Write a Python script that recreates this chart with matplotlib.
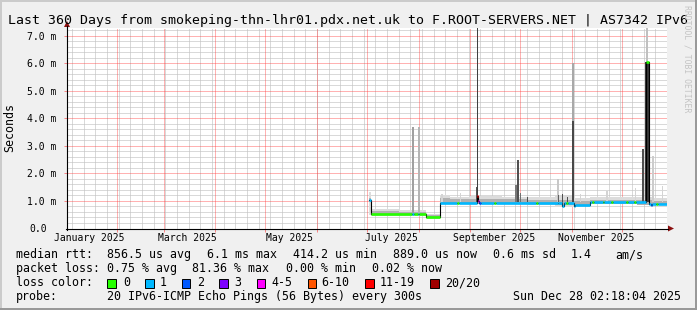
import numpy as np
import pandas as pd
import matplotlib
matplotlib.use('Agg')
import matplotlib.pyplot as plt
import matplotlib.dates as mdates
from matplotlib.patches import Rectangle, Polygon
from matplotlib.lines import Line2D

plt.rcParams['font.family'] = ['DejaVu Sans Mono', 'DejaVu Sans']

# ---------------- data ----------------
END = pd.Timestamp('2025-12-28 02:18:04')
START = END - pd.Timedelta(days=360)

# median rtt (ms) as steps: breakpoints, value per step, loss bucket per step
med_t = ['2025-07-02 12:00', '2025-07-03 06:00', '2025-07-28 00:00', '2025-07-29 00:00',
         '2025-07-31 12:00', '2025-08-01 12:00', '2025-08-05 18:00', '2025-08-13 18:00',
         '2025-08-24 00:00', '2025-08-25 00:00', '2025-09-05 06:00', '2025-09-05 18:00',
         '2025-09-06 12:00', '2025-09-07 12:00', '2025-09-15 00:00', '2025-09-16 12:00',
         '2025-10-10 12:00', '2025-10-11 12:00', '2025-10-23 12:00', '2025-10-26 00:00',
         '2025-10-27 00:00', '2025-10-28 12:00', '2025-10-29 12:00', '2025-11-02 00:00',
         '2025-11-03 00:00', '2025-11-12 00:00', '2025-11-13 00:00', '2025-11-14 00:00',
         '2025-11-19 12:00', '2025-11-20 12:00', '2025-11-24 12:00', '2025-11-25 12:00',
         '2025-12-03 12:00', '2025-12-04 12:00', '2025-12-08 12:00', '2025-12-09 12:00',
         '2025-12-15 12:00', '2025-12-17 00:00', '2025-12-18 12:00', '2025-12-19 06:00',
         '2025-12-21 12:00', '2025-12-22 12:00', '2025-12-28 02:18']
med_v = [1.03, 0.53, 0.53, 0.53, 0.53, 0.52, 0.43, 0.94, 0.94, 0.94, 1.18, 1.00,
         0.94, 0.94, 0.94, 0.94, 0.94, 0.94, 0.91, 0.80, 0.93, 0.94, 0.92, 0.80,
         0.86, 0.95, 0.95, 0.95, 0.95, 0.95, 0.95, 0.95, 0.95, 0.95, 0.95, 0.95,
         6.06, 0.90, 0.84, 0.88, 0.88, 0.90]
med_loss = [1, 0, 1, 0, 1, 0, 0, 1, 0, 1, 6, 4,
            2, 1, 0, 1, 0, 1, 1, 1, 1, 0, 1, 1,
            1, 1, 0, 1, 0, 1, 0, 1, 0, 1, 0, 1,
            0, 1, 2, 1, 0, 1]

# smoke bands (ms)
smoke_t = ['2025-07-02 12:00', '2025-07-03 06:00', '2025-07-20 00:00', '2025-08-01 12:00',
           '2025-08-05 18:00', '2025-08-13 18:00', '2025-08-20 00:00', '2025-09-01 00:00',
           '2025-09-20 00:00', '2025-10-05 00:00', '2025-10-22 00:00', '2025-11-02 00:00',
           '2025-11-12 00:00', '2025-11-25 00:00', '2025-12-10 00:00', '2025-12-20 00:00',
           '2025-12-28 02:18']
light_hi = [1.34, 0.70, 0.68, 0.66, 0.52, 1.22, 1.16, 1.18, 1.16, 1.16, 1.18, 1.10, 1.14, 1.16, 1.14, 1.10]
light_lo = [0.50, 0.47, 0.47, 0.45, 0.35, 0.88, 0.88, 0.88, 0.88, 0.86, 0.78, 0.80, 0.88, 0.88, 0.84, 0.84]
dark_hi = [1.10, 0.62, 0.61, 0.60, 0.48, 1.10, 1.06, 1.06, 1.06, 1.05, 1.05, 1.00, 1.05, 1.05, 1.04, 1.00]
dark_lo = [0.95, 0.50, 0.50, 0.48, 0.37, 0.90, 0.90, 0.90, 0.90, 0.88, 0.84, 0.82, 0.90, 0.90, 0.86, 0.86]

# smoke spikes: centre date, width (days), bottom, top (ms), grey shade
spike_t = ['2025-08-15 00:00', '2025-08-26 00:00', '2025-11-06 00:00', '2025-11-22 00:00',
           '2025-12-09 00:00', '2025-12-25 12:00', '2025-10-23 12:00', '2025-12-19 16:00',
           '2025-07-28 14:00', '2025-08-01 06:00', '2025-09-05 00:00', '2025-09-05 14:00',
           '2025-09-28 12:00', '2025-09-29 18:00', '2025-10-01 00:00', '2025-10-05 14:00',
           '2025-10-24 00:00', '2025-10-26 12:00', '2025-10-29 12:00', '2025-11-01 14:00',
           '2025-11-01 14:00', '2025-12-13 14:00', '2025-12-16 06:00', '2025-12-16 06:00']
spike_w = [0.8, 0.8, 0.8, 0.8, 0.8, 0.8, 1.2, 1.0,
           1.2, 1.0, 1.2, 0.6, 1.2, 1.2, 0.8, 0.8,
           0.8, 0.8, 0.8, 1.2, 1.2, 1.2, 3.0, 1.3]
spike_bot = [0.95, 0.95, 0.95, 0.95, 0.95, 0.95, 0.95, 0.95,
             0.55, 0.55, 0.95, 0.95, 0.95, 0.95, 0.95, 0.95,
             0.95, 0.90, 0.95, 0.95, 0.95, 0.95, 0.95, 6.06]
spike_top = [1.25, 1.30, 1.25, 1.37, 1.46, 1.54, 1.80, 2.63,
             3.70, 3.70, 1.52, 7.40, 1.58, 2.49, 1.30, 1.15,
             1.20, 1.25, 1.15, 6.00, 3.90, 2.90, 6.06, 7.40]
spike_c = ['#d4d4d4', '#d4d4d4', '#d4d4d4', '#d4d4d4', '#d4d4d4', '#d4d4d4', '#c8c8c8', '#cccccc',
           '#a0a0a0', '#b4b4b4', '#555555', '#404040', '#787878', '#505050', '#707070', '#505050',
           '#606060', '#505050', '#505050', '#a8a8a8', '#484848', '#505050', '#383838', '#c0c0c0']

loss_colors = ['#26ff00', '#00b8ff', '#0059ff', '#7e00ff', '#ff00ff', '#ff5500', '#ff0000', '#a10000']
loss_labels = ['0', '1', '2', '3', '4-5', '6-10', '11-19', '20/20']

label_dates = ['2025-01-15 12:00', '2025-03-15 12:00', '2025-05-15 12:00',
               '2025-07-15 12:00', '2025-09-15 12:00', '2025-11-15 12:00']
y_major = [1, 2, 3, 4, 5, 6, 7]

title = 'Last 360 Days from smokeping-thn-lhr01.pdx.net.uk to F.ROOT-SERVERS.NET | AS7342 IPv6'
rtt_items = ['856.5 us avg', '6.1 ms max', '414.2 us min', '889.0 us now', '0.6 ms sd', '1.4', 'am/s']
loss_items = ['0.75 % avg', '81.36 % max', '0.00 % min', '0.02 % now']
probe_text = '20 IPv6-ICMP Echo Pings (56 Bytes) every 300s'
stamp = 'Sun Dec 28 02:18:04 2025'

# ---------------- figure ----------------
W, H = 697, 310
fig = plt.figure(figsize=(W / 100, H / 100), dpi=100, facecolor='#f0f0f0')


def fx(x):
    return x / W


def fy(y):
    return 1 - y / H


# 3d border
fig.add_artist(Rectangle((0, fy(2)), 1, 2 / H, transform=fig.transFigure, color='#cbcbcb', lw=0))
fig.add_artist(Rectangle((0, 0), 2 / W, 1, transform=fig.transFigure, color='#cbcbcb', lw=0))
fig.add_artist(Rectangle((0, 0), 1, 2 / H, transform=fig.transFigure, color='#999999', lw=0))
fig.add_artist(Rectangle((fx(W - 2), 0), 2 / W, 1, transform=fig.transFigure, color='#999999', lw=0))

x0, x1, ytop, ybot = 67, 667, 27.7, 228.5
ax = fig.add_axes([fx(x0), fy(ybot), (x1 - x0) / W, (ybot - ytop) / H])
ax.set_facecolor('white')
for s in ax.spines.values():
    s.set_visible(False)
xs, xe = mdates.date2num(START), mdates.date2num(END)
ax.set_xlim(xs, xe)
YMAX = 7.29
ax.set_ylim(0, YMAX)

# grid (under the data)
gmin = dict(color='#c0c0c0', alpha=0.6, lw=0.72, ls=(0, (1, 1)), zorder=0.5, antialiased=False)
gmaj = dict(color='#ff4040', alpha=0.4, lw=0.72, ls=(0, (1, 1)), zorder=0.6, antialiased=False)
weeks = [w for w in mdates.WeekdayLocator(byweekday=mdates.SU).tick_values(START, END) if xs < w < xe]
months = [m for m in mdates.MonthLocator().tick_values(START, END) if xs < m < xe]
ax.vlines(weeks, 0, YMAX, **gmin)
minor_y = [v for v in np.arange(0.2, YMAX, 0.2) if abs(v - round(v)) > 0.05]
ax.hlines(minor_y, xs, xe, **gmin)
ax.vlines(months, 0, YMAX, **gmaj)
ax.hlines(y_major, xs, xe, **gmaj)

# smoke
st = mdates.date2num(pd.to_datetime(smoke_t))
ax.fill_between(st, np.r_[light_lo, light_lo[-1]], np.r_[light_hi, light_hi[-1]],
                step='post', color='#dcdcdc', lw=0, zorder=1)
ax.fill_between(st, np.r_[dark_lo, dark_lo[-1]], np.r_[dark_hi, dark_hi[-1]],
                step='post', color='#b0b0b0', lw=0, zorder=1.1)

# spikes
sp = mdates.date2num(pd.to_datetime(spike_t))
ax.bar(sp, np.array(spike_top) - np.array(spike_bot), bottom=spike_bot, width=spike_w,
       color=spike_c, lw=0, zorder=1.2, align='center')

# median line
mt = mdates.date2num(pd.to_datetime(med_t))
ax.step(mt, np.r_[med_v, med_v[-1]], where='post', color='black', lw=0.8, zorder=3)
ax.hlines(med_v, mt[:-1], mt[1:], colors=[loss_colors[i] for i in med_loss], lw=1.9, zorder=4)

# ticks
ax.set_xticks(months)
ax.set_xticklabels([])
ax.tick_params(axis='x', which='major', length=2, width=0.72, color=(1, 0.25, 0.25, 0.6), direction='out')
ld = pd.to_datetime(label_dates)
ax.set_xticks(mdates.date2num(ld), minor=True)
ax.set_xticklabels([d.strftime('%B %Y') for d in ld], minor=True, fontsize=7.05)
ax.tick_params(axis='x', which='minor', length=0, pad=3.2)
ax.set_yticks(y_major)
ax.set_yticklabels([f'{v:.1f} m' for v in y_major], fontsize=7.05)
ax.tick_params(axis='y', which='major', length=2, width=0.72, color=(1, 0.25, 0.25, 0.6), pad=5.3)
ax.text(-(x0 - 47.5) / (x1 - x0), 0, '0.0', transform=ax.transAxes, ha='right',
        va='center_baseline', fontsize=7.05)

# axes lines and arrows
fig.add_artist(Line2D([fx(x0 - 1), fx(668)], [fy(ybot), fy(ybot)], transform=fig.transFigure,
                      color='black', lw=0.8))
fig.add_artist(Line2D([fx(x0), fx(x0)], [fy(ybot + 1), fy(26)], transform=fig.transFigure,
                      color='black', lw=0.8))
fig.add_artist(Polygon([(fx(668), fy(ybot - 3)), (fx(674), fy(ybot)), (fx(668), fy(ybot + 3))],
                       closed=True, transform=fig.transFigure, color='#8b1010', lw=0))
fig.add_artist(Polygon([(fx(x0 - 3), fy(27)), (fx(x0), fy(21)), (fx(x0 + 3), fy(27))],
                       closed=True, transform=fig.transFigure, color='#8b1010', lw=0))

# texts
fig.text(fx(8), fy(24), title, fontsize=9.55, va='baseline', ha='left')
fig.text(fx(10), fy(127), 'Seconds', fontsize=8.35, rotation=90, va='center', ha='center')
fig.text(fx(687.5), fy(5), 'RRDTOOL / TOBI OETIKER', fontsize=5.9, rotation=270,
         va='top', ha='center', color='#c4c4c4')

LF = 8.35
fig.text(fx(16), fy(258), 'median rtt:', fontsize=LF, va='baseline')
for s, x in zip(rtt_items, [107, 207, 293, 393, 493, 571, 615]):
    fig.text(fx(x), fy(258), s, fontsize=LF, va='baseline')
fig.text(fx(16), fy(272), 'packet loss:', fontsize=LF, va='baseline')
for s, x in zip(loss_items, [107, 192, 286, 372]):
    fig.text(fx(x), fy(272), s, fontsize=LF, va='baseline')
fig.text(fx(16), fy(286), 'loss color:', fontsize=LF, va='baseline')
for c, lab, bx, tx in zip(loss_colors, loss_labels,
                          [107.3, 145, 181.7, 219, 256.7, 307.7, 365, 430],
                          [123.3, 160, 197, 234, 271, 321.7, 380, 445]):
    fig.add_artist(Rectangle((fx(bx), fy(288)), 8.7 / W, 8.7 / H, transform=fig.transFigure,
                             facecolor=c, edgecolor='black', lw=0.7))
    fig.text(fx(tx), fy(286), lab, fontsize=LF, va='baseline')
fig.text(fx(16), fy(300), 'probe:', fontsize=LF, va='baseline')
fig.text(fx(107), fy(300), probe_text, fontsize=LF, va='baseline')
fig.text(fx(681), fy(300), stamp, fontsize=LF, va='baseline', ha='right')

fig.savefig('out.png', dpi=100, facecolor=fig.get_facecolor())
